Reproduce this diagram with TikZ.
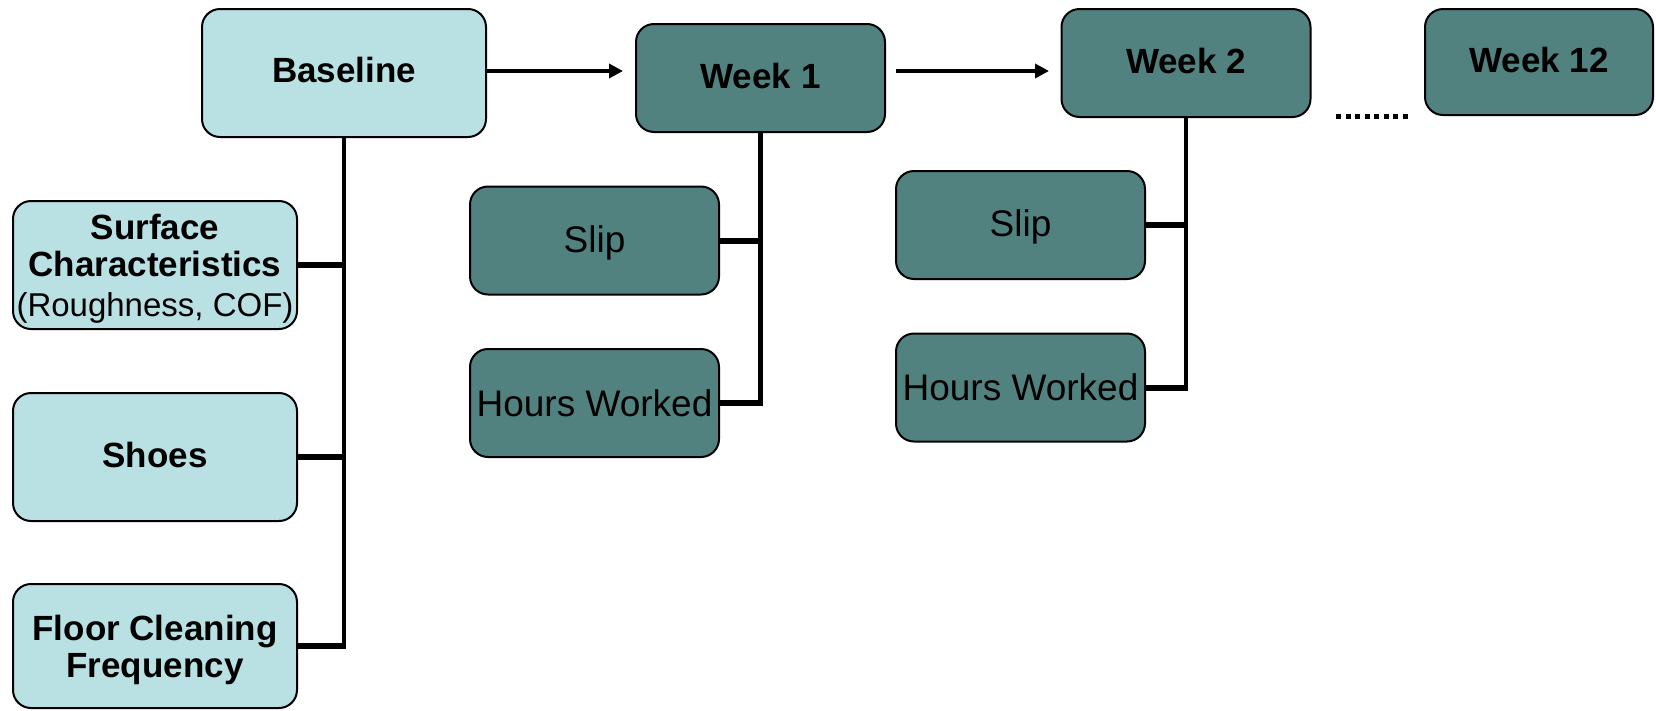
\documentclass[tikz,border=0pt]{standalone}
\usepackage{fontspec}
\setmainfont{Liberation Sans}
\usetikzlibrary{arrows.meta}
\definecolor{lightbox}{RGB}{185,224,227}
\definecolor{darkbox}{RGB}{82,130,128}
\newcommand{\nodepth}[1]{\raisebox{0pt}[\height][0pt]{#1}}
\tikzset{
  base/.style={draw=black, line width=2pt, rounded corners=18pt, inner sep=0pt, align=center},
  lightnode/.style={base, fill=lightbox, minimum width=284pt, minimum height=128pt, font=\fontsize{35}{37}\selectfont\bfseries},
  weeknode/.style={base, fill=darkbox, minimum width=249pt, minimum height=108pt, font=\fontsize{35}{37}\selectfont\bfseries},
  subnode/.style={base, fill=darkbox, minimum width=249pt, minimum height=108pt, font=\fontsize{37}{37}\selectfont},
  liftup/.style={text depth=4pt},
  trunk/.style={line width=4.5pt},
  branch/.style={line width=6pt},
  arr/.style={line width=4pt, -{Triangle[length=14pt,width=14pt]}},
  dotline/.style={line width=5pt, dash pattern=on 5pt off 4.5pt}
}
\begin{document}
\begin{tikzpicture}[x=1pt,y=-1pt]
\useasboundingbox (0,0) rectangle (1656,710);
% top row
\node[lightnode, text depth=6pt] (bl) at (344,73) {Baseline};
\node[weeknode, liftup] (w1) at (760.5,78) {Week 1};
\node[weeknode, liftup] (w2) at (1186,63) {Week 2};
\node[weeknode, liftup, minimum width=228pt, minimum height=106pt] (w12) at (1539,62) {Week 12};
% baseline children
\node[lightnode] (surf) at (155,265) {Surface\\Characteristics\\[3pt]{\fontsize{33}{37}\selectfont\mdseries \nodepth{(Roughness, COF)}}};
\node[lightnode, liftup] (shoes) at (155,457) {Shoes};
\node[lightnode, minimum height=124pt] (floor) at (155,646) {Floor Cleaning\\\nodepth{Frequency}};
% week 1 children
\node[subnode, text depth=3pt] (slip1) at (594.5,240.5) {Slip};
\node[subnode] (hrs1) at (594.5,403) {Hours Worked};
% week 2 children
\node[subnode, text depth=3pt] (slip2) at (1020.5,225) {Slip};
\node[subnode] (hrs2) at (1020.5,387.5) {Hours Worked};
% trunks
\draw[trunk] (bl.south) -- (bl.south |- floor.east);
\draw[trunk] (w1.south) -- (w1.south |- hrs1.east);
\draw[trunk] (w2.south) -- (w2.south |- hrs2.east);
% branches
\draw[branch] (surf.east) -- (surf.east -| bl.south);
\draw[branch] (shoes.east) -- (shoes.east -| bl.south);
\draw[branch] (floor.east) -- ([xshift=2.25pt]floor.east -| bl.south);
\draw[branch] (slip1.east) -- (slip1.east -| w1.south);
\draw[branch] (hrs1.east) -- ([xshift=2.25pt]hrs1.east -| w1.south);
\draw[branch] (slip2.east) -- (slip2.east -| w2.south);
\draw[branch] (hrs2.east) -- ([xshift=2.25pt]hrs2.east -| w2.south);
% arrows
\coordinate (a1) at (486,71);
\coordinate (a2) at (623,71);
\coordinate (a3) at (896,71);
\coordinate (a4) at (1049,71);
\draw[arr] (a1) -- (a2);
\draw[arr] (a3) -- (a4);
% dotted continuation
\coordinate (d1) at (1336,116);
\coordinate (d2) at (1411,116);
\draw[dotline] (d1) -- (d2);
\end{tikzpicture}
\end{document}
